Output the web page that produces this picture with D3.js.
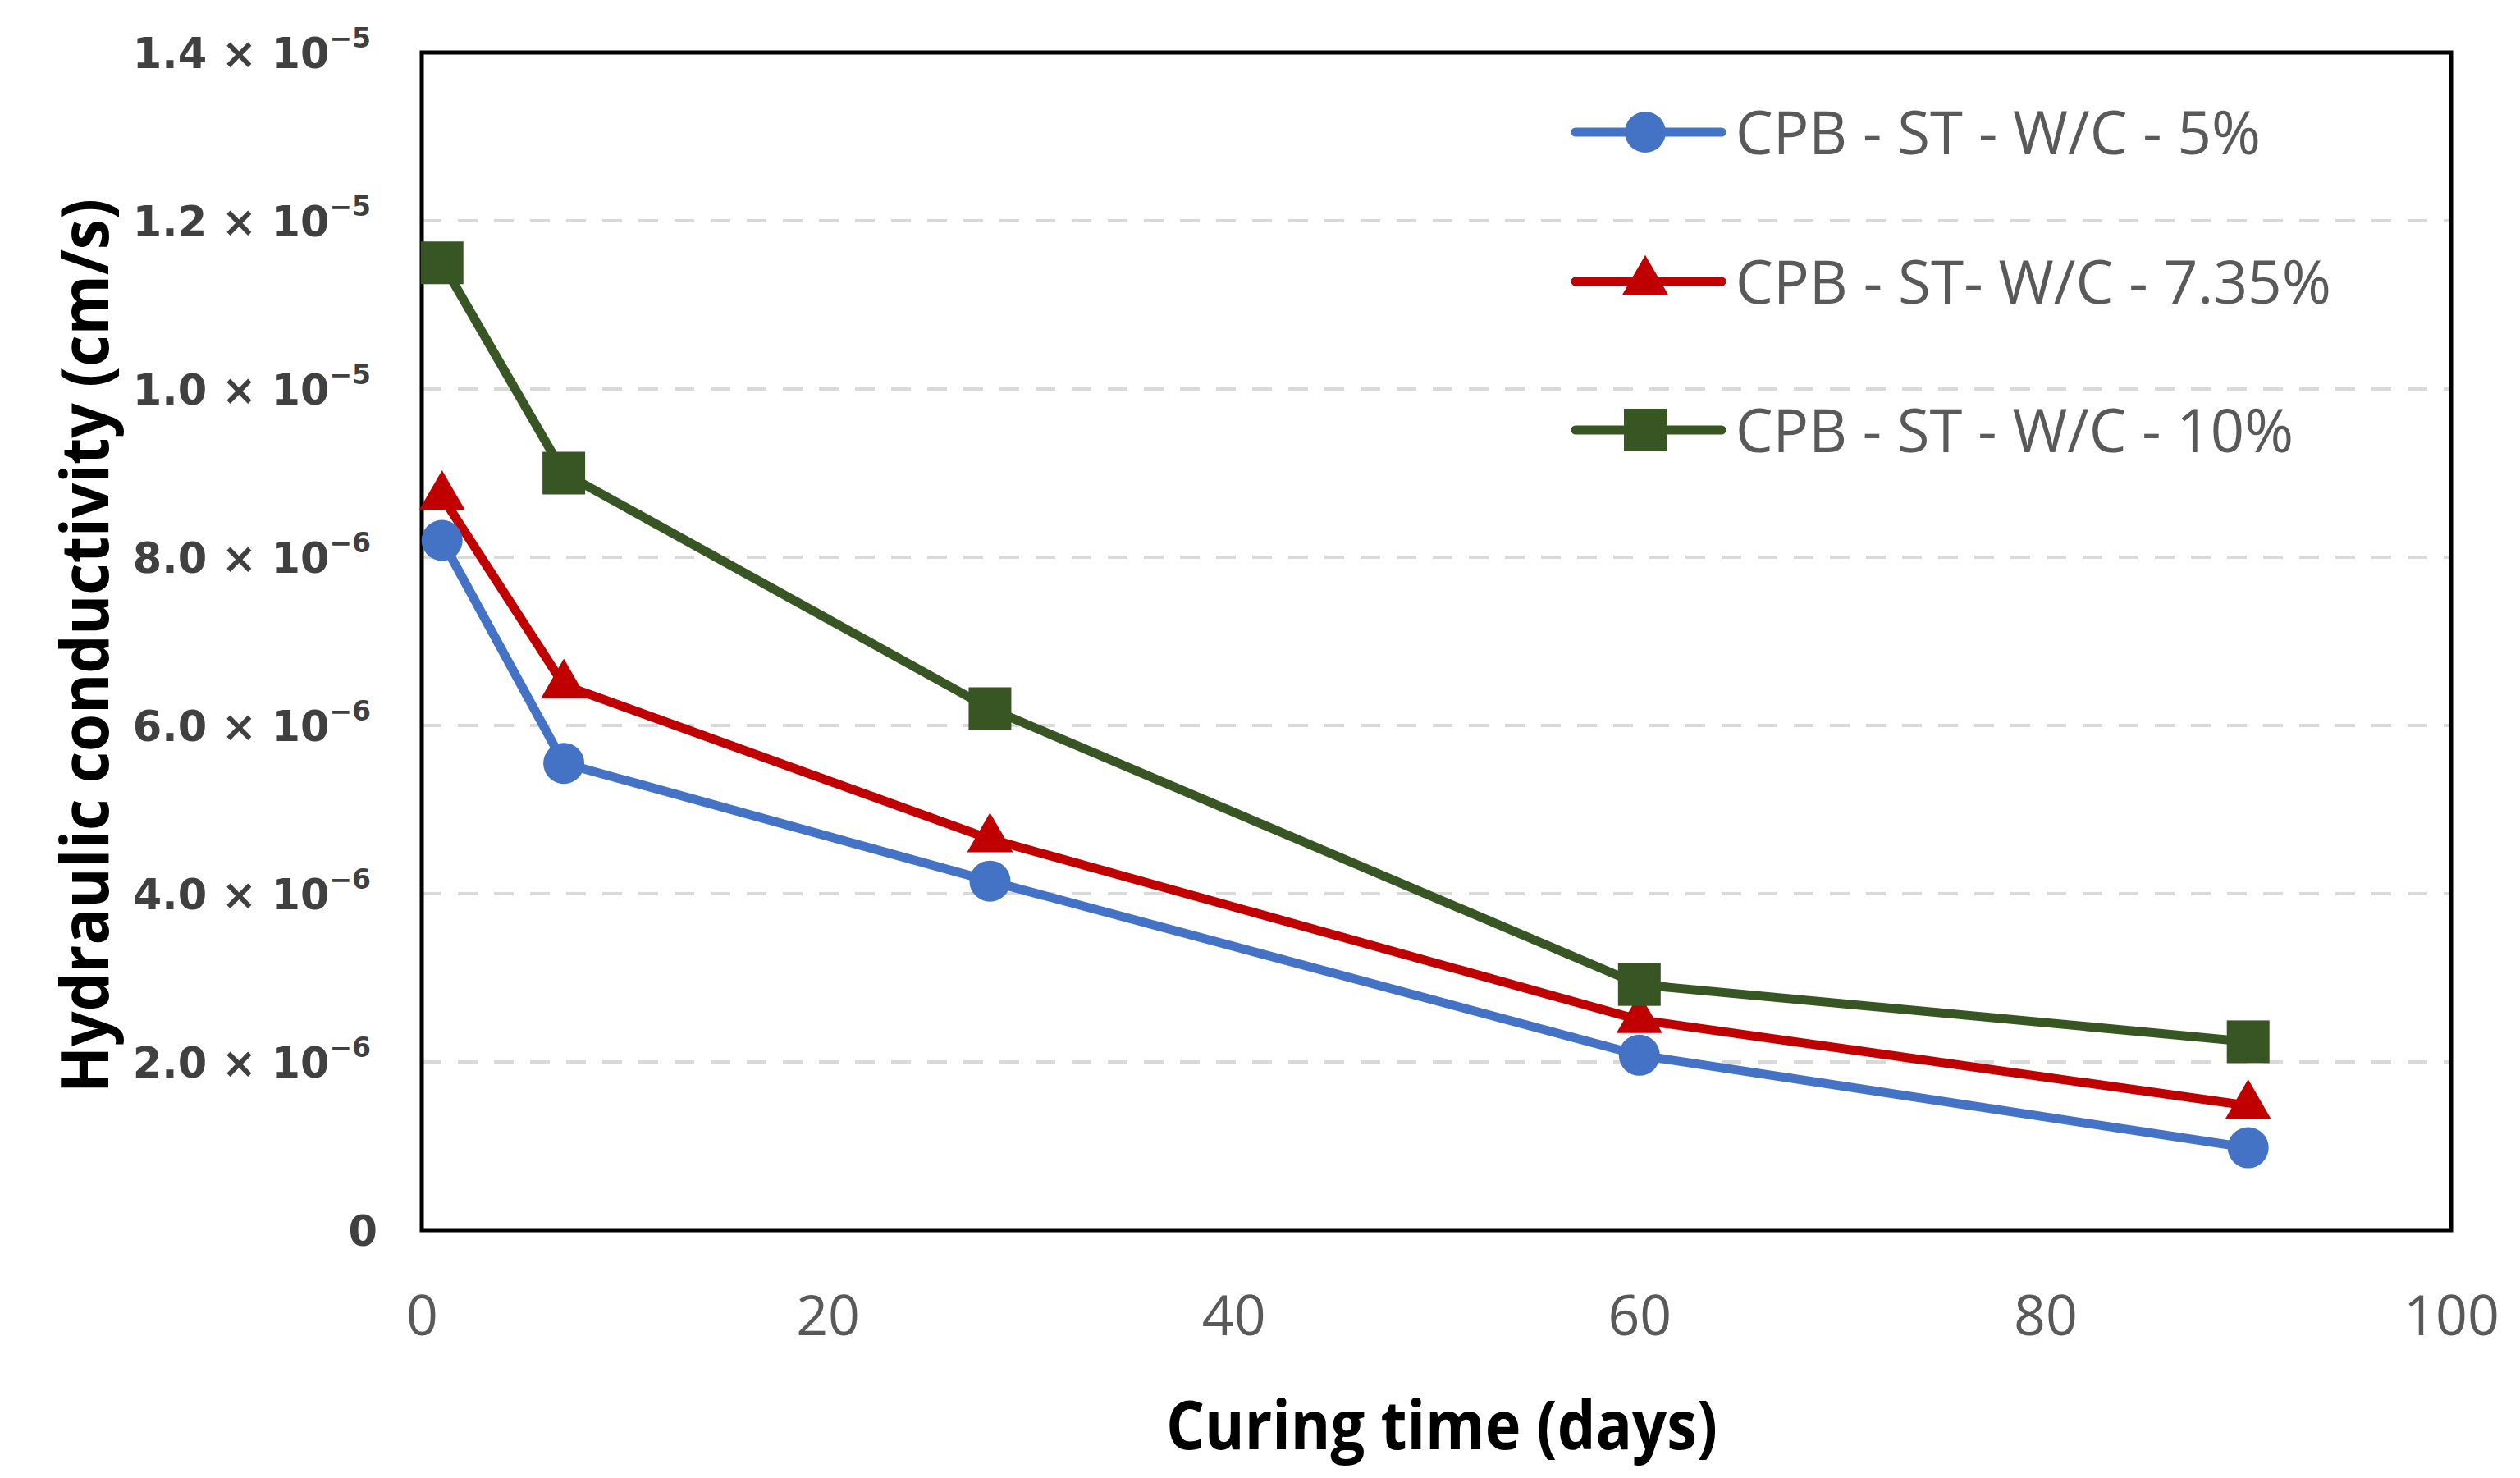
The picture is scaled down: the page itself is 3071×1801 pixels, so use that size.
<!DOCTYPE html>
<html>
<head>
<meta charset="utf-8">
<script src="https://cdn.jsdelivr.net/npm/d3@7"></script>
<style>
  html, body { margin: 0; padding: 0; background: #fff; }
  svg { display: block; }
</style>
</head>
<body>
<svg id="chart" width="3071" height="1801"></svg>
<script>
// ---- data ----
const days = [1, 7, 28, 60, 90];
const seriesNames = ["CPB - ST - W/C - 5%", "CPB - ST- W/C - 7.35%", "CPB - ST - W/C - 10%"];
const wc5 = [8.2e-6, 5.55e-6, 4.15e-6, 2.08e-6, 0.98e-6];
const wc735 = [8.72e-6, 6.48e-6, 4.65e-6, 2.5e-6, 1.48e-6];
const wc10 = [11.5e-6, 9.0e-6, 6.2e-6, 2.92e-6, 2.24e-6];
const xTicks = [0, 20, 40, 60, 80, 100];
const yTicks = [0, 2e-6, 4e-6, 6e-6, 8e-6, 1.0e-5, 1.2e-5, 1.4e-5];
const yTickMantissa = ["0", "2.0", "4.0", "6.0", "8.0", "1.0", "1.2", "1.4"];
const yTickExp = ["", "−6", "−6", "−6", "−6", "−5", "−5", "−5"];
const colors = ["#4472C4", "#C00000", "#375623"];
const markers = ["circle", "triangle", "square"];

const series = [wc5, wc735, wc10].map((vals, i) => ({
  name: seriesNames[i], color: colors[i], marker: markers[i],
  points: days.map((d, j) => ({ x: d, y: vals[j] }))
}));

// ---- layout ----
const svg = d3.select("#chart");
const L = 514, R = 2987, T = 64, B = 1499;
const x = d3.scaleLinear().domain([0, 100]).range([L, R]);
const y = d3.scaleLinear().domain([0, 1.4e-5]).range([B, T]);

// grid
svg.append("g").selectAll("line")
  .data(yTicks.filter(v => v > 0 && v < 1.4e-5))
  .join("line")
  .attr("x1", L).attr("x2", R)
  .attr("y1", d => y(d)).attr("y2", d => y(d))
  .attr("stroke", "#D9D9D9").attr("stroke-width", 4)
  .attr("stroke-dasharray", "24,20");

// frame
svg.append("rect")
  .attr("x", L).attr("y", T).attr("width", R - L).attr("height", B - T)
  .attr("fill", "none").attr("stroke", "#000").attr("stroke-width", 5);

// y axis labels
const yAxis = d3.axisLeft(y).tickValues(yTicks).tickSize(0).tickPadding(0).tickFormat(() => "");
const yg = svg.append("g").attr("transform", `translate(${L - 62},0)`).call(yAxis);
yg.select(".domain").remove();
yg.selectAll(".tick text").each(function(d, i) {
  const t = d3.select(this);
  t.attr("font-family", "'DejaVu Sans', Verdana, sans-serif")
   .attr("font-weight", "bold").attr("font-size", 51)
   .attr("fill", "#404040").attr("dy", "0.36em").attr("x", 0)
   .attr("text-anchor", "end");
  if (yTickExp[i] === "") {
    t.text(yTickMantissa[i]).attr("x", 8);
  } else {
    t.append("tspan").text(yTickMantissa[i] + " × 10");
    t.append("tspan").text(yTickExp[i]).attr("font-size", 33).attr("dy", "-0.75em");
  }
});

// x axis labels
const xAxis = d3.axisBottom(x).tickValues(xTicks).tickSize(0).tickPadding(0);
const xg = svg.append("g").attr("transform", `translate(0,${B + 128})`).call(xAxis);
xg.select(".domain").remove();
xg.selectAll(".tick text")
  .attr("font-family", "'Open Sans', sans-serif").attr("font-size", 68)
  .attr("fill", "#595959").attr("dy", 0);

// axis titles
svg.append("text")
  .attr("x", 1757).attr("y", 1766)
  .attr("text-anchor", "middle")
  .attr("font-family", "'Open Sans', sans-serif").attr("font-weight", "bold")
  .attr("font-size", 82).attr("fill", "#000")
  .attr("textLength", 672).attr("lengthAdjust", "spacingAndGlyphs")
  .text("Curing time (days)");

svg.append("text")
  .attr("transform", "translate(132,787) rotate(-90)")
  .attr("text-anchor", "middle")
  .attr("font-family", "'Open Sans', sans-serif").attr("font-weight", "bold")
  .attr("font-size", 80).attr("fill", "#000")
  .attr("textLength", 1090).attr("lengthAdjust", "spacingAndGlyphs")
  .text("Hydraulic conductivity (cm/s)");

// marker helper
function drawMarker(sel, type, color) {
  if (type === "circle") {
    sel.append("circle").attr("r", 25).attr("fill", color);
  } else if (type === "triangle") {
    sel.append("path").attr("d", d3.symbol().type(d3.symbolTriangle).size(1350)()).attr("fill", color);
  } else {
    sel.append("rect").attr("x", -26).attr("y", -26).attr("width", 52).attr("height", 52).attr("fill", color);
  }
}

// lines + markers
const line = d3.line().x(d => x(d.x)).y(d => y(d.y));
series.forEach(s => {
  svg.append("path").datum(s.points)
    .attr("d", line).attr("fill", "none")
    .attr("stroke", s.color).attr("stroke-width", 11).attr("stroke-linejoin", "round");
});
series.forEach(s => {
  svg.append("g").selectAll("g").data(s.points).join("g")
    .attr("transform", d => `translate(${x(d.x)},${y(d.y)})`)
    .each(function() { drawMarker(d3.select(this), s.marker, s.color); });
});

// legend
const legendY = [161, 343, 524];
const legendW = [640, 726, 680];
series.forEach((s, i) => {
  const g = svg.append("g").attr("transform", `translate(0,${legendY[i]})`);
  g.append("line").attr("x1", 1920).attr("x2", 2098).attr("y1", 0).attr("y2", 0)
    .attr("stroke", s.color).attr("stroke-width", 11).attr("stroke-linecap", "round");
  const m = g.append("g").attr("transform", "translate(2005,0)");
  drawMarker(m, s.marker, s.color);
  g.append("text").attr("x", 2115).attr("y", 0).attr("dy", "0.36em")
    .attr("font-family", "'Open Sans', sans-serif").attr("font-size", 74)
    .attr("fill", "#595959")
    .attr("textLength", legendW[i]).attr("lengthAdjust", "spacingAndGlyphs")
    .text(s.name);
});
</script>
</body>
</html>
